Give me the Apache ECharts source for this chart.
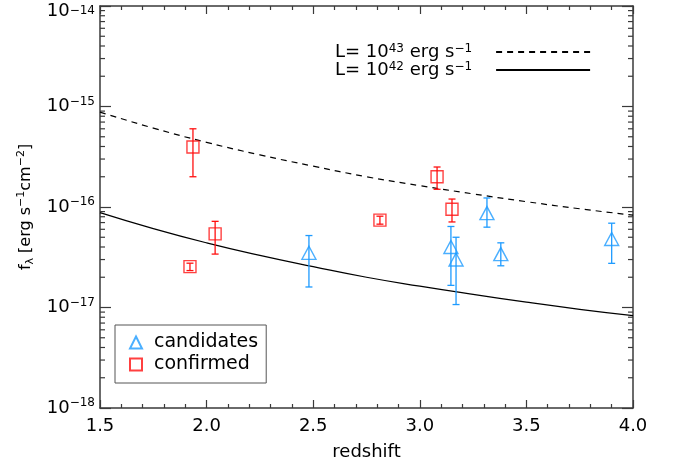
<!DOCTYPE html>
<html>
<head>
<meta charset="utf-8">
<script src="https://cdn.jsdelivr.net/npm/echarts@6/dist/echarts.min.js"></script>
<style>html,body{margin:0;padding:0;background:#fff}#c{width:673px;height:465px}</style>
</head>
<body>
<div id="c"></div>
<script>
// ---- data ----
const xRange = [1.5, 4.0];
const xTicks = [1.5, 2.0, 2.5, 3.0, 3.5, 4.0];
const yRange = [1e-18, 1e-14];
const yTickExponents = ['−18', '−17', '−16', '−15', '−14'];
const yMinorTicks = [
  2e-18,3e-18,4e-18,5e-18,6e-18,7e-18,8e-18,9e-18,
  2e-17,3e-17,4e-17,5e-17,6e-17,7e-17,8e-17,9e-17,
  2e-16,3e-16,4e-16,5e-16,6e-16,7e-16,8e-16,9e-16,
  2e-15,3e-15,4e-15,5e-15,6e-15,7e-15,8e-15,9e-15
];

// luminosity lines
const zLine = [1.5, 1.75, 2.0, 2.25, 2.5, 2.75, 3.0, 3.25, 3.5, 3.75, 4.0];
const fL43 = [8.8e-16, 6.1e-16, 4.4e-16, 3.3e-16, 2.55e-16, 2.0e-16, 1.63e-16, 1.35e-16, 1.13e-16, 9.6e-17, 8.3e-17];
const fL42 = [8.8e-17, 6.1e-17, 4.4e-17, 3.3e-17, 2.55e-17, 2.0e-17, 1.63e-17, 1.35e-17, 1.13e-17, 9.6e-18, 8.3e-18];

// confirmed (red squares)
const confZ  = [1.936, 2.04, 1.922, 2.813, 3.081, 3.151];
const confF  = [3.95e-16, 5.4e-17, 2.55e-17, 7.4e-17, 2.0e-16, 9.5e-17];
const confLo = [2.0e-16, 3.4e-17, 2.33e-17, 6.75e-17, 1.5e-16, 7.1e-17];
const confHi = [6.0e-16, 7.2e-17, 2.76e-17, 8.1e-17, 2.5e-16, 1.2e-16];

// candidates (blue triangles)
const candZ  = [2.48, 3.146, 3.17, 3.315, 3.38, 3.90];
const candF  = [3.5e-17, 4.0e-17, 3.0e-17, 8.7e-17, 3.4e-17, 4.8e-17];
const candLo = [1.6e-17, 1.66e-17, 1.07e-17, 6.3e-17, 2.6e-17, 2.75e-17];
const candHi = [5.2e-17, 6.4e-17, 5.0e-17, 1.23e-16, 4.4e-17, 6.9e-17];

// ---- chart ----
const FONT = 'DejaVu Sans';
const RED = '#ff1010';
const BLUE = '#1e9bff';
const AXIS = '#3a3a3a';

const zip2 = (a, b) => a.map((v, i) => [v, b[i]]);
const zip3 = (a, b, c) => a.map((v, i) => [v, b[i], c[i]]);

function errorBars(color) {
  return function (params, api) {
    const x = api.value(0), lo = api.value(1), hi = api.value(2);
    const pH = api.coord([x, hi]);
    const pL = api.coord([x, lo]);
    const w = 3.5;
    const st = { stroke: color, lineWidth: 1.3, fill: null };
    return {
      type: 'group',
      children: [
        { type: 'line', shape: { x1: pH[0], y1: pH[1], x2: pL[0], y2: pL[1] }, style: st },
        { type: 'line', shape: { x1: pH[0] - w, y1: pH[1], x2: pH[0] + w, y2: pH[1] }, style: st },
        { type: 'line', shape: { x1: pL[0] - w, y1: pL[1], x2: pL[0] + w, y2: pL[1] }, style: st }
      ]
    };
  };
}

function minorTicks(params, api) {
  const v = api.value(1);
  const pL = api.coord([xRange[0], v]);
  const pR = api.coord([xRange[1], v]);
  const st = { stroke: AXIS, lineWidth: 1.2 };
  return {
    type: 'group',
    children: [
      { type: 'line', shape: { x1: pL[0], y1: pL[1], x2: pL[0] + 5, y2: pL[1] }, style: st },
      { type: 'line', shape: { x1: pR[0] - 5, y1: pR[1], x2: pR[0], y2: pR[1] }, style: st }
    ]
  };
}

const supRich = {
  b: { fontFamily: FONT, fontSize: 18, color: '#000', lineHeight: 22 },
  s: { fontFamily: FONT, fontSize: 12, color: '#000', verticalAlign: 'top', lineHeight: 14 },
  bt: { fontFamily: FONT, fontSize: 18, color: '#000', lineHeight: 22, padding: [10, 0, 0, 0] },
  st: { fontFamily: FONT, fontSize: 12, color: '#000', verticalAlign: 'top', lineHeight: 14, padding: [10, 0, 0, 0] }
};

const chart = echarts.init(document.getElementById('c'), null, { renderer: 'canvas' });
const baseX = {
  type: 'value', min: xRange[0], max: xRange[1], interval: 0.5,
  axisLine: { show: true, onZero: false, lineStyle: { color: AXIS, width: 1.5 } },
  axisTick: { show: true, inside: true, length: 8, lineStyle: { color: AXIS, width: 1.2 } },
  minorTick: { show: true, splitNumber: 5, length: 4, lineStyle: { color: AXIS, width: 1.2 } },
  splitLine: { show: false }
};
const baseY = {
  type: 'log', logBase: 10, min: yRange[0], max: yRange[1],
  axisLine: { show: true, onZero: false, lineStyle: { color: AXIS, width: 1.5 } },
  axisTick: { show: true, inside: true, length: 11, lineStyle: { color: AXIS, width: 1.2 } },
  splitLine: { show: false }
};

chart.setOption({
  animation: false,
  backgroundColor: '#fff',
  grid: { left: 100, right: 40, top: 6, bottom: 57, containLabel: false, outerBoundsMode: 'none' },
  xAxis: [
    Object.assign({}, baseX, {
      position: 'bottom',
      name: 'redshift', nameLocation: 'middle', nameGap: 35,
      nameTextStyle: { fontFamily: FONT, fontSize: 18, color: '#000' },
      axisLabel: {
        show: true, margin: 9, fontFamily: FONT, fontSize: 18, color: '#000',
        formatter: v => xTicks.includes(Math.round(v * 10) / 10) ? v.toFixed(1) : ''
      }
    }),
    Object.assign({}, baseX, { position: 'top', axisLabel: { show: false } })
  ],
  yAxis: [
    Object.assign({}, baseY, {
      position: 'left',
      name: '{t|f}{sub|λ}{t| [erg s}{sup|−1}{t|cm}{sup|−2}{t|]}',
      nameLocation: 'middle', nameGap: 62, nameRotate: 90,
      nameTextStyle: {
        rich: {
          t: { fontFamily: FONT, fontSize: 16, color: '#000', lineHeight: 20 },
          sub: { fontFamily: FONT, fontSize: 11, color: '#000', verticalAlign: 'bottom', lineHeight: 12 },
          sup: { fontFamily: FONT, fontSize: 11, color: '#000', verticalAlign: 'top', lineHeight: 12 }
        }
      },
      axisLabel: {
        show: true, margin: 5,
        formatter: v => {
          const i = Math.round(Math.log10(v)) + 18;
          const e = yTickExponents[i];
          if (e === undefined) return '';
          return i === yTickExponents.length - 1 ? '{bt|10}{st|' + e + '}' : '{b|10}{s|' + e + '}';
        },
        rich: supRich
      }
    }),
    Object.assign({}, baseY, { position: 'right', axisLabel: { show: false } })
  ],
  legend: [
    {
      data: ['L43', 'L42'],
      left: 335, top: 43, orient: 'vertical', align: 'right',
      itemWidth: 94, itemHeight: 2, itemGap: 0, padding: 0,
      selectedMode: false,
      itemStyle: { color: 'rgba(0,0,0,0)', borderColor: 'rgba(0,0,0,0)', borderWidth: 0 },
      formatter: name => '{b|L= 10}{s|' + name.slice(1) + '}{b| erg s}{s|−1}{g|}',
      textStyle: {
        rich: {
          b: { fontFamily: FONT, fontSize: 18, color: '#000', lineHeight: 18 },
          s: { fontFamily: FONT, fontSize: 12, color: '#000', verticalAlign: 'top', lineHeight: 12 },
          g: { width: 19 }
        }
      }
    },
    {
      data: [{ name: 'candidates', icon: 'triangle' }, { name: 'confirmed', icon: 'rect' }],
      left: 115, top: 325, orient: 'vertical', align: 'left',
      itemWidth: 12, itemHeight: 12, itemGap: 3,
      padding: [8, 8, 9, 14],
      borderColor: '#555', borderWidth: 1,
      selectedMode: false,
      formatter: name => '{g|}{t|' + name + '}',
      textStyle: {
        rich: {
          g: { width: 7 },
          t: { fontFamily: FONT, fontSize: 19, color: '#000', lineHeight: 20 }
        }
      }
    }
  ],
  series: [
    {
      type: 'custom', name: 'minor', xAxisIndex: 0, yAxisIndex: 0,
      renderItem: minorTicks, data: yMinorTicks.map(v => [xRange[0], v]),
      encode: { x: 0, y: 1 }, silent: true, z: 1
    },
    {
      type: 'line', name: 'L43', data: zip2(zLine, fL43), smooth: true, symbol: 'none',
      lineStyle: { color: '#000', width: 1.2, type: [6, 5] }, itemStyle: { color: '#000' }, z: 2
    },
    {
      type: 'line', name: 'L42', data: zip2(zLine, fL42), smooth: true, symbol: 'none',
      lineStyle: { color: '#000', width: 1.2, type: 'solid' }, itemStyle: { color: '#000' }, z: 2
    },
    {
      type: 'custom', name: 'candErr', renderItem: errorBars(BLUE),
      data: zip3(candZ, candLo, candHi), encode: { x: 0, y: [1, 2] }, z: 4
    },
    {
      type: 'custom', name: 'confErr', renderItem: errorBars(RED),
      data: zip3(confZ, confLo, confHi), encode: { x: 0, y: [1, 2] }, z: 4
    },
    {
      type: 'scatter', name: 'candidates', data: zip2(candZ, candF),
      symbol: 'triangle', symbolSize: [14, 13],
      itemStyle: { color: 'transparent', borderColor: BLUE, borderWidth: 1.4 }, z: 5
    },
    {
      type: 'scatter', name: 'confirmed', data: zip2(confZ, confF),
      symbol: 'rect', symbolSize: [12, 12],
      itemStyle: { color: 'transparent', borderColor: RED, borderWidth: 1.4 }, z: 5
    }
  ]
});
</script>
</body>
</html>
